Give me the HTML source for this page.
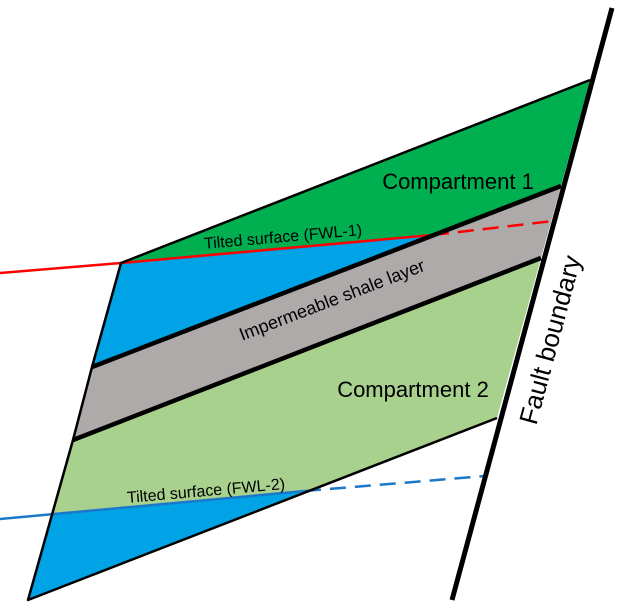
<!DOCTYPE html>
<html><head><style>body{margin:0;background:#fff}svg{display:block}text{font-family:"Liberation Sans",sans-serif;fill:#000}</style></head><body>
<svg width="619" height="609" viewBox="0 0 619 609" xmlns="http://www.w3.org/2000/svg">
<polygon points="121,263 590,80 561,186 92,367" fill="#00b050"/>
<polygon points="121,263 433,235 92,367" fill="#00a3e6"/>
<polygon points="92,367 561,186 541,258 73,440" fill="#aeaaaa"/>
<polygon points="73,440 541,258 497,418 28,600" fill="#a9d18e"/>
<polygon points="52,513 305,491 28,600" fill="#00a3e6"/>
<polyline points="0,273 121,263 433,235" fill="none" stroke="#ff0000" stroke-width="2.5"/>
<line x1="433" y1="235" x2="553" y2="221" stroke="#ff0000" stroke-width="2.5" stroke-dasharray="16,9"/>
<line x1="0" y1="519" x2="305" y2="491" stroke="#1a78c8" stroke-width="2.5"/>
<line x1="305" y1="491" x2="485" y2="476" stroke="#1a78c8" stroke-width="2.5" stroke-dasharray="16,9"/>
<g fill="none" stroke="#000" stroke-linejoin="round">
<polyline points="590,80 121,263 92,367 73,440 28,600 497,418" stroke-width="2.5"/>
<line x1="92" y1="367" x2="561" y2="186" stroke-width="4.5"/>
<line x1="73" y1="440" x2="541" y2="258" stroke-width="4.5"/>
<line x1="612" y1="8" x2="452" y2="600" stroke-width="5"/>
</g>
<text x="458" y="189" font-size="22" text-anchor="middle">Compartment 1</text>
<text x="413" y="397" font-size="22" text-anchor="middle">Compartment 2</text>
<text x="283" y="242" font-size="16" text-anchor="middle" transform="rotate(-5 283 237)">Tilted surface (FWL-1)</text>
<text x="206" y="496" font-size="16" text-anchor="middle" transform="rotate(-5 206 491)">Tilted surface (FWL-2)</text>
<text x="332" y="306" font-size="18" text-anchor="middle" transform="rotate(-21 332 300)">Impermeable shale layer</text>
<text x="551" y="348" font-size="26" text-anchor="middle" transform="rotate(-75 551 340)">Fault boundary</text>
</svg>
</body></html>
